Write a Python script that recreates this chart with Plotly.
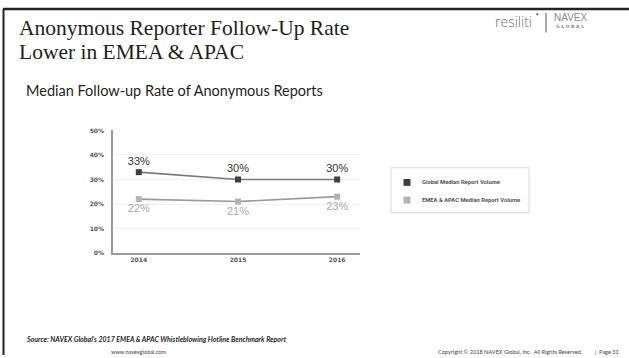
import plotly.graph_objects as go

# Data
years = ["2014", "2015", "2016"]
global_rate = [33, 30, 30]
emea_apac_rate = [22, 21, 23]
series_names = ["Global Median Report Volume", "EMEA & APAC Median Report Volume"]
y_ticks = [0, 10, 20, 30, 40, 50]

W, H = 629, 358


def px(x):
    return x / W


def py(y):
    return 1 - y / H


fig = go.Figure()

fig.add_trace(go.Scatter(
    x=years, y=global_rate, name=series_names[0],
    mode="lines+markers+text",
    line=dict(color="#7a7a7a", width=1.6),
    marker=dict(symbol="square", size=6, color="#3e3e3e"),
    text=[f"{v}%" for v in global_rate], textposition="top center",
    textfont=dict(family="Liberation Sans, Arial", size=11, color="#333333"),
    showlegend=False, cliponaxis=False,
))
fig.add_trace(go.Scatter(
    x=years, y=emea_apac_rate, name=series_names[1],
    mode="lines+markers+text",
    line=dict(color="#9a9a9a", width=1.6),
    marker=dict(symbol="square", size=6, color="#b3b3b3"),
    text=[f"{v}%" for v in emea_apac_rate], textposition="bottom center",
    textfont=dict(family="Liberation Sans, Arial", size=11, color="#a8a8a8"),
    showlegend=False, cliponaxis=False,
))

fig.update_xaxes(
    type="category", range=[-0.26, 2.23],
    domain=[px(113), px(360)],
    showline=True, linecolor="#9a9a9a", linewidth=1.5,
    showgrid=False, ticks="", zeroline=False,
    tickfont=dict(family="DejaVu Sans", size=6, color="#555555", weight="bold"),
)
fig.update_yaxes(
    range=[0, 50], domain=[py(254), py(129)],
    tickvals=y_ticks, ticktext=[f"{v}%" for v in y_ticks],
    showline=True, linecolor="#9a9a9a", linewidth=1.5,
    showgrid=True, gridcolor="#f1f1f1", gridwidth=1, zeroline=False,
    ticks="", ticklabelstandoff=6,
    tickfont=dict(family="DejaVu Sans", size=6, color="#555555", weight="bold"),
)

shapes = [
    # slide frame
    dict(type="line", xref="paper", yref="paper", x0=px(3), x1=1, y0=py(5), y1=py(5),
         line=dict(color="#222222", width=2.5)),
    dict(type="line", xref="paper", yref="paper", x0=px(3.5), x1=px(3.5), y0=py(5), y1=0,
         line=dict(color="#222222", width=2)),
    # logo divider
    dict(type="line", xref="paper", yref="paper", x0=px(546), x1=px(546), y0=py(9), y1=py(29),
         line=dict(color="#555555", width=1)),
    # legend box
    dict(type="rect", xref="paper", yref="paper", x0=px(391), x1=px(529), y0=py(167), y1=py(213),
         line=dict(color="#d8d8d8", width=1), fillcolor="white"),
]
swatch_colors = ["#3e3e3e", "#b3b3b3"]
swatch_y = [182, 200]
annotations = []
for name, c, yy in zip(series_names, swatch_colors, swatch_y):
    shapes.append(dict(type="rect", xref="paper", yref="paper",
                       x0=px(403.5), x1=px(410.5), y0=py(yy - 3.5), y1=py(yy + 3.5),
                       line=dict(width=0), fillcolor=c))
    annotations.append(dict(text=name, xref="paper", yref="paper", x=px(420), y=py(yy),
                            xanchor="left", yanchor="middle", showarrow=False,
                            font=dict(family="Roboto", size=5.8, color="#555555", weight="bold")))

annotations += [
    dict(text="Anonymous Reporter Follow-Up Rate",
         xref="paper", yref="paper", x=px(17), y=py(24), xanchor="left", yanchor="middle",
         showarrow=False, font=dict(family="Liberation Serif", size=21.5, color="#1e1e1e")),
    dict(text="Lower in EMEA &amp; APAC",
         xref="paper", yref="paper", x=px(17), y=py(49), xanchor="left", yanchor="middle",
         showarrow=False, font=dict(family="Liberation Serif", size=21.5, color="#1e1e1e")),
    dict(text="Median Follow-up Rate of Anonymous Reports",
         xref="paper", yref="paper", x=px(24), y=py(88), xanchor="left", yanchor="middle",
         showarrow=False, font=dict(family="Lato", size=14.5, color="#1e1e1e")),
    dict(text="<b><i>Source: NAVEX Global’s 2017 EMEA &amp; APAC Whistleblowing Hotline Benchmark Report</i></b>",
         xref="paper", yref="paper", x=px(24), y=py(342), xanchor="left", yanchor="middle",
         showarrow=False, font=dict(family="Lato", size=7, color="#1e1e1e")),
    dict(text="www.navexglobal.com",
         xref="paper", yref="paper", x=px(138), y=py(354), xanchor="center", yanchor="middle",
         showarrow=False, font=dict(family="Lato", size=5.6, color="#444444")),
    dict(text="Copyright © 2018 NAVEX Global, Inc.  All Rights Reserved.",
         xref="paper", yref="paper", x=px(585), y=py(354), xanchor="right", yanchor="middle",
         showarrow=False, font=dict(family="Lato", size=5.6, color="#444444")),
    dict(text="|", xref="paper", yref="paper", x=px(595), y=py(354), xanchor="center",
         yanchor="middle", showarrow=False, font=dict(family="Lato", size=5.6, color="#444444")),
    dict(text="Page 31",
         xref="paper", yref="paper", x=px(621), y=py(354), xanchor="right", yanchor="middle",
         showarrow=False, font=dict(family="Lato", size=5.6, color="#444444")),
    # logos
    dict(text="resiliti", xref="paper", yref="paper", x=px(534), y=py(18), xanchor="right",
         yanchor="middle", showarrow=False,
         font=dict(family="Open Sans", size=14, color="#707070", weight=300)),
    dict(text="▾", xref="paper", yref="paper", x=px(537.5), y=py(10), xanchor="center",
         yanchor="middle", showarrow=False, font=dict(family="DejaVu Sans", size=5, color="#444444")),
    dict(text="NAVEX", xref="paper", yref="paper", x=px(570), y=py(14), xanchor="center",
         yanchor="middle", showarrow=False,
         font=dict(family="Liberation Sans", size=10, color="#8a8a8a", weight=300)),
    dict(text="<b>G L O B A L</b>", xref="paper", yref="paper", x=px(570), y=py(22.5), xanchor="center",
         yanchor="middle", showarrow=False,
         font=dict(family="DejaVu Sans", size=4.5, color="#8a8a8a")),
]

fig.update_layout(
    width=W, height=H, margin=dict(l=0, r=0, t=0, b=0),
    paper_bgcolor="white", plot_bgcolor="white",
    shapes=shapes, annotations=annotations, showlegend=False,
)

fig.write_html("out.html")
